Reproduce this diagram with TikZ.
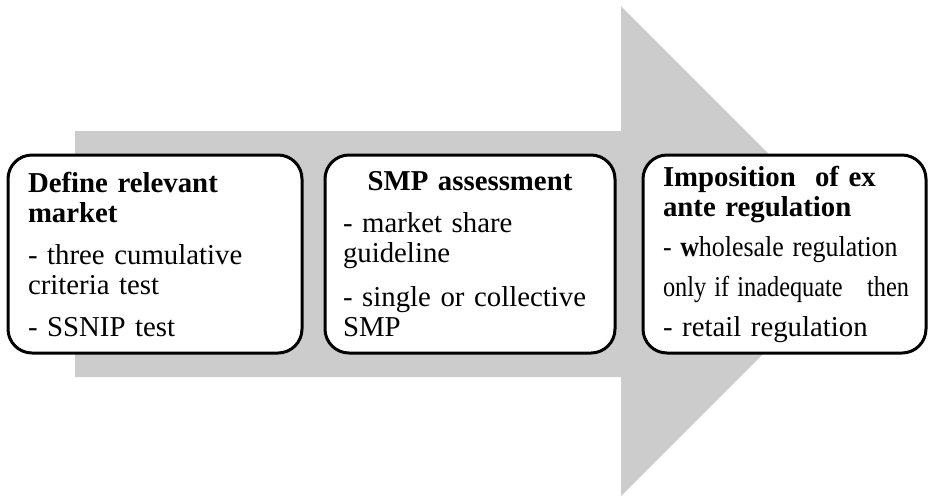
\documentclass[tikz,border=0pt]{standalone}
\usepackage{fontspec}
\setmainfont{Liberation Serif}
\usepackage{graphicx}
\usepackage{tikz}
\definecolor{pfeilgrau}{RGB}{204,204,204}
\tikzstyle{stage} = [draw=black,line width=1.5pt,rounded corners=12pt,fill=white,inner xsep=10pt,inner ysep=4pt,minimum height=99pt,align=left,font=\fontsize{14.4}{15}\selectfont]

\begin{document}
\begin{tikzpicture}[x=0.5pt,y=-0.5pt]
\useasboundingbox (0,0) rectangle (928,500);
% big process arrow
\fill[pfeilgrau] (75,131) -- (621,131) -- (621,6) -- (866,251) -- (621,496) -- (621,377) -- (75,377) -- cycle;
% the three stages
\node[stage,text width=127pt] (market) at (155,254) {\textbf{Define relevant}\\\textbf{market}\\[6pt]- three cumulative\\criteria test\\[6pt]- SSNIP\ test};
\node[stage,text width=127pt,inner xsep=9pt] (smp) at (470,254) {\makebox[127pt][c]{\textbf{SMP assessment}}\\[6pt]- market share\\guideline\\[7pt]- single or collective\\SMP};
\node[stage,text width=121.5pt] (exante) at (784.5,254) {\textbf{Imposition\ \ of ex}\\\textbf{ante regulation}\\[5pt]\scalebox{0.9}[1]{- \textbf{w}holesale\ regulation}\\[5pt]\scalebox{0.845}[1]{only if inadequate\ \ \ then}\\[5pt]- retail regulation};
\end{tikzpicture}
\end{document}
